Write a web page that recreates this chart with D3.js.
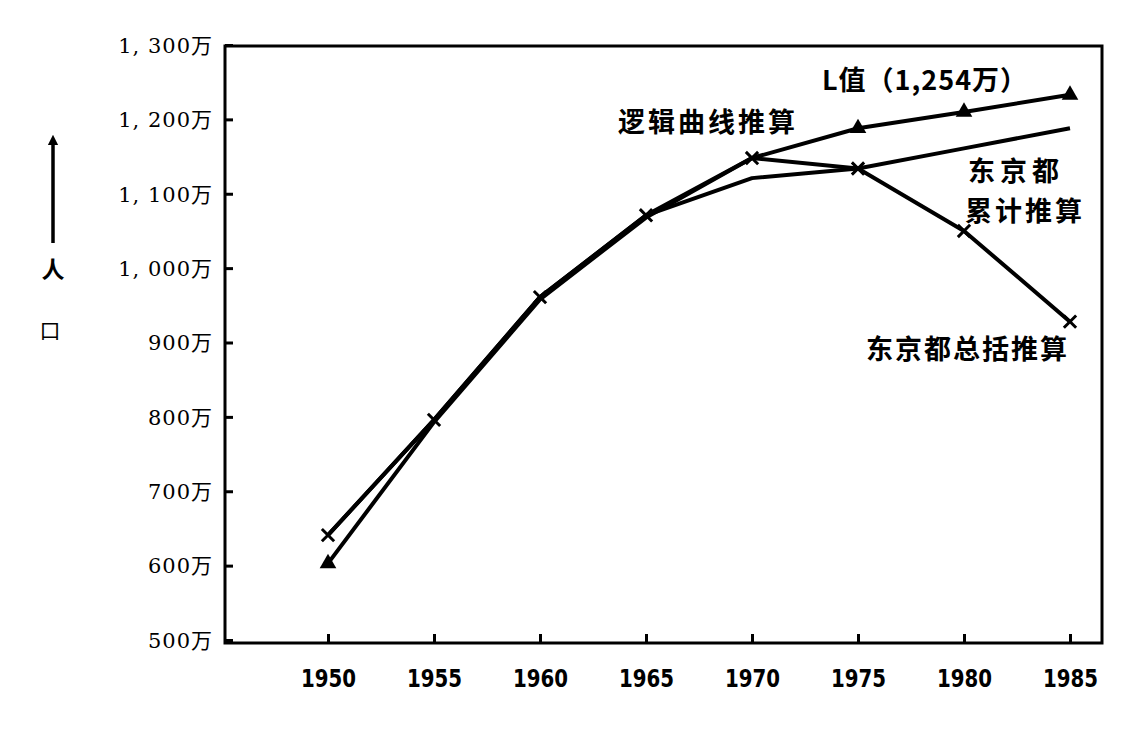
<!DOCTYPE html>
<html>
<head>
<meta charset="utf-8">
<script src="https://cdn.jsdelivr.net/npm/d3@7"></script>
<style>
  html, body { margin: 0; padding: 0; background: #fff; }
  svg { display: block; }
  text { fill: #000; }
</style>
</head>
<body>
<svg id="chart" width="1130" height="750"></svg>
<script>
// ---- data ----
const years = [1950, 1955, 1960, 1965, 1970, 1975, 1980, 1985];
const logisticValues   = [603, 793, 958, 1068, 1148, 1188, 1210, 1233];   // 逻辑曲线推算
const cumulativeValues = [641, 796, 961, 1071, 1121, 1134, 1161, 1188];   // 东京都累计推算
const comprehensiveValues = [641, 796, 961, 1071, 1148, 1134, 1050, 928]; // 东京都总括推算
const logisticMarkerYears = [1950, 1975, 1980, 1985];
const crossMarkerYears = [1950, 1955, 1960, 1965, 1970, 1975, 1980, 1985];
const yTicks = [500, 600, 700, 800, 900, 1000, 1100, 1200, 1300];
const yTickLabels = ["500万", "600万", "700万", "800万", "900万", "1, 000万", "1, 100万", "1, 200万", "1, 300万"];
const xTickLabels = ["1950", "1955", "1960", "1965", "1970", "1975", "1980", "1985"];

const svg = d3.select("#chart");

const frame = { left: 225, right: 1102, top: 46, bottom: 643 };

const x = d3.scaleLinear().domain([1950, 1985]).range([328, 1070]);
const y = d3.scaleLinear().domain([500, 1300]).range([640, 45]);

// frame
svg.append("rect")
  .attr("x", frame.left).attr("y", frame.top)
  .attr("width", frame.right - frame.left).attr("height", frame.bottom - frame.top)
  .attr("fill", "none").attr("stroke", "#000").attr("stroke-width", 3);

// y axis
const yAxis = d3.axisRight(y).tickValues(yTicks).tickSize(8).tickFormat("");
const yg = svg.append("g").attr("transform", `translate(${frame.left},0)`).call(yAxis);
yg.select(".domain").remove();
yg.selectAll(".tick line").attr("stroke", "#000").attr("stroke-width", 3);
yg.selectAll(".tick").append("text")
  .attr("x", -12).attr("dy", "0.35em")
  .attr("text-anchor", "end")
  .style("font-family", "'DejaVu Serif', 'Noto Sans CJK SC', serif")
  .style("font-size", "21px")
  .style("letter-spacing", "1px")
  .text((d, i) => yTickLabels[i]);

// x axis
const xAxis = d3.axisTop(x).tickValues(years).tickSize(9).tickFormat("");
const xg = svg.append("g").attr("transform", `translate(0,${frame.bottom})`).call(xAxis);
xg.select(".domain").remove();
xg.selectAll(".tick line").attr("stroke", "#000").attr("stroke-width", 3);
xg.selectAll(".tick").append("text")
  .attr("y", 38)
  .attr("text-anchor", "middle")
  .attr("transform", "scale(1,1.15)")
  .style("font-family", "'Liberation Sans Narrow', 'DejaVu Sans Condensed', sans-serif")
  .style("font-weight", "bold")
  .style("font-size", "22px")
  .text((d, i) => xTickLabels[i]);

// axis title with arrow
svg.append("defs").append("marker")
  .attr("id", "arrow").attr("viewBox", "0 0 10 10")
  .attr("refX", 5).attr("refY", 5)
  .attr("markerWidth", 3).attr("markerHeight", 4).attr("orient", "auto")
  .append("path").attr("d", "M0,0 L10,5 L0,10 z").attr("fill", "#000");
svg.append("line")
  .attr("x1", 53).attr("y1", 243).attr("x2", 53).attr("y2", 140)
  .attr("stroke", "#000").attr("stroke-width", 3.5)
  .attr("marker-end", "url(#arrow)");
svg.append("text").attr("x", 53).attr("y", 278).attr("text-anchor", "middle")
  .style("font-family", "'Noto Sans CJK SC', sans-serif").style("font-size", "23px").style("font-weight", "bold")
  .text("人");
svg.append("text").attr("x", 50).attr("y", 338).attr("text-anchor", "middle")
  .style("font-family", "'Noto Sans CJK SC', sans-serif").style("font-size", "21px")
  .text("口");

// lines
const line = d3.line().x(d => x(d[0])).y(d => y(d[1]));
const series = [logisticValues, cumulativeValues, comprehensiveValues];
series.forEach(vals => {
  svg.append("path")
    .datum(years.map((yr, i) => [yr, vals[i]]))
    .attr("d", line)
    .attr("fill", "none").attr("stroke", "#000")
    .attr("stroke-width", 4).attr("stroke-linejoin", "round");
});

// markers: triangles on logistic
const tri = d3.symbol().type(d3.symbolTriangle).size(120);
svg.selectAll(".tri").data(logisticMarkerYears).join("path")
  .attr("transform", d => `translate(${x(d)},${y(logisticValues[years.indexOf(d)])})`)
  .attr("d", tri).attr("fill", "#000");

// crosses on 总括 line
const cross = d3.symbol().type(d3.symbolX).size(100);
svg.selectAll(".crs").data(crossMarkerYears).join("path")
  .attr("transform", d => `translate(${x(d)},${y(comprehensiveValues[years.indexOf(d)])})`)
  .attr("d", cross).attr("fill", "none").attr("stroke", "#000").attr("stroke-width", 3);

// annotations
const ann = [
  { t: "L值（1,254万）", x: 822, y: 90, ls: 1 },
  { t: "逻辑曲线推算", x: 618, y: 132, ls: 3 },
  { t: "东京都", x: 968, y: 181, ls: 5 },
  { t: "累计推算", x: 965, y: 221, ls: 3 },
  { t: "东京都总括推算", x: 866, y: 359, ls: 2 }
];
svg.selectAll(".ann").data(ann).join("text")
  .attr("x", d => d.x).attr("y", d => d.y)
  .style("font-family", "'Noto Sans CJK SC', sans-serif")
  .style("font-size", "27px").style("font-weight", "bold")
  .style("letter-spacing", d => d.ls + "px")
  .text(d => d.t);
</script>
</body>
</html>
